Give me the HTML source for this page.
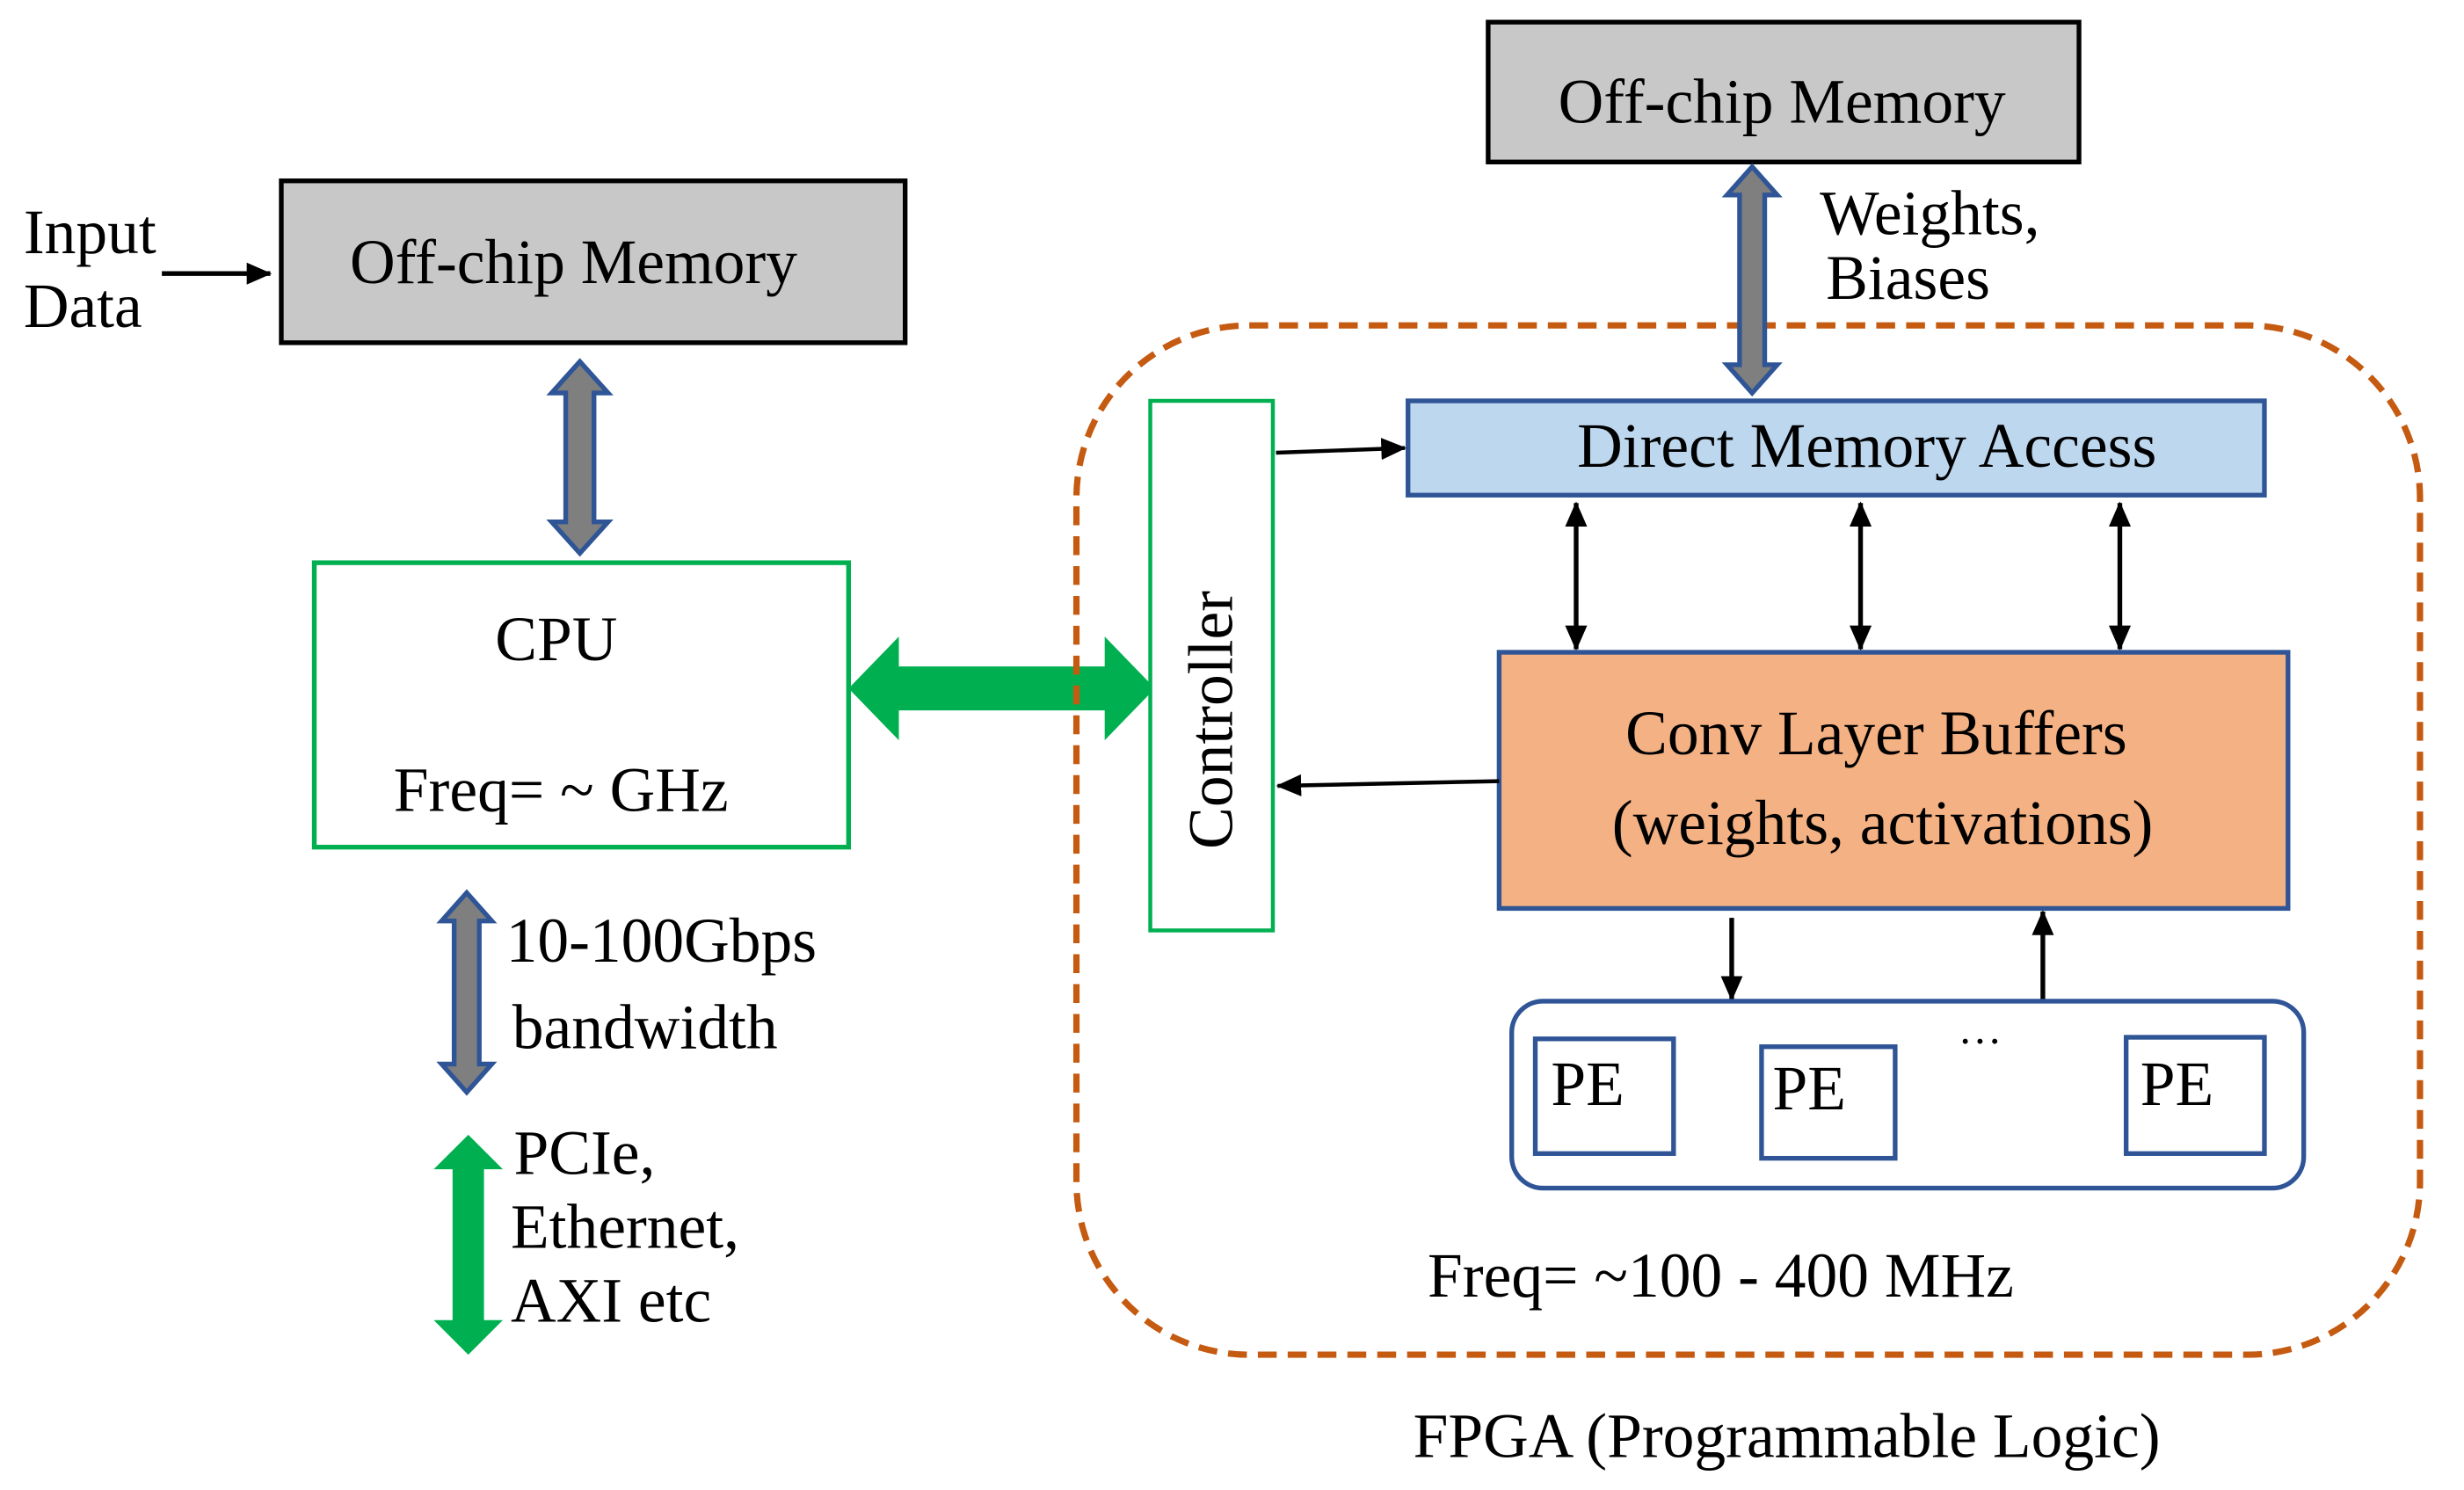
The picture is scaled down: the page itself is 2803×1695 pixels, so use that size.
<!DOCTYPE html>
<html><head><meta charset="utf-8"><style>
html,body{margin:0;padding:0;background:#fff;}
svg{display:block;}
text{font-family:"Liberation Serif",serif;font-size:40px;fill:#000;}
</style></head><body>
<svg width="2803" height="1695" viewBox="0 0 1568 948" xmlns="http://www.w3.org/2000/svg">
<defs>
<marker id="ah2" markerWidth="16" markerHeight="14" refX="15" refY="7" orient="auto" markerUnits="userSpaceOnUse">
<path d="M0,0 L16,7 L0,14 z" fill="#000"/></marker>
<marker id="ah3" markerWidth="16" markerHeight="14" refX="1" refY="7" orient="auto" markerUnits="userSpaceOnUse">
<path d="M16,0 L0,7 L16,14 z" fill="#000"/></marker>
</defs>

<rect x="179" y="115" width="397" height="103" fill="#c8c8c8" stroke="#000" stroke-width="3"/>
<text x="365" y="180" text-anchor="middle">Off-chip Memory</text>
<text x="15" y="161">Input</text>
<text x="15" y="208">Data</text>
<line x1="103" y1="174" x2="172" y2="174" stroke="#000" stroke-width="3" marker-end="url(#ah2)"/>

<path d="M369,230 L387,250 L378,250 L378,332 L387,332 L369,352 L351,332 L360,332 L360,250 L351,250 Z" fill="#7f7f7f" stroke="#2f5597" stroke-width="3"/>

<rect x="200" y="358" width="340" height="181" fill="#fff" stroke="#00b050" stroke-width="3"/>
<text x="354" y="420" text-anchor="middle">CPU</text>
<text x="357" y="516" text-anchor="middle">Freq= ~ GHz</text>

<path d="M540,438 L572,405 L572,424 L703,424 L703,405 L735,438 L703,471 L703,452 L572,452 L572,471 Z" fill="#00b050"/>

<path d="M297,568 L313,586 L305,586 L305,677 L313,677 L297,695 L281,677 L289,677 L289,586 L281,586 Z" fill="#7f7f7f" stroke="#2f5597" stroke-width="3"/>
<text x="322" y="612">10-100Gbps</text>
<text x="326" y="667">bandwidth</text>

<path d="M298,722 L320,744 L308,744 L308,840 L320,840 L298,862 L276,840 L288,840 L288,744 L276,744 Z" fill="#00b050"/>
<text x="327" y="747">PCIe,</text>
<text x="325" y="794">Ethernet,</text>
<text x="325" y="841">AXI etc</text>

<rect x="685" y="207" width="855" height="655" rx="110" ry="110" fill="none" stroke="#c55a11" stroke-width="4" stroke-dasharray="12 7"/>

<rect x="732" y="255" width="78" height="337" fill="#fff" stroke="#00b050" stroke-width="2.5"/>
<text x="0" y="0" text-anchor="middle" transform="translate(784,458) rotate(-90)">Controller</text>

<rect x="947" y="14" width="376" height="89" fill="#c8c8c8" stroke="#000" stroke-width="3"/>
<text x="1134" y="78" text-anchor="middle">Off-chip Memory</text>
<path d="M1115,106 L1131,124 L1123,124 L1123,232 L1131,232 L1115,250 L1099,232 L1107,232 L1107,124 L1099,124 Z" fill="#7f7f7f" stroke="#2f5597" stroke-width="3"/>
<text x="1158" y="149">Weights,</text>
<text x="1162" y="190">Biases</text>

<rect x="896" y="255" width="545" height="60" fill="#bdd7ee" stroke="#2f5597" stroke-width="3"/>
<text x="1188" y="297" text-anchor="middle">Direct Memory Access</text>
<line x1="812" y1="288" x2="894" y2="285" stroke="#000" stroke-width="2.5" marker-end="url(#ah2)"/>

<line x1="1003" y1="320" x2="1003" y2="413" stroke="#000" stroke-width="3" marker-start="url(#ah3)" marker-end="url(#ah2)"/>
<line x1="1184" y1="320" x2="1184" y2="413" stroke="#000" stroke-width="3" marker-start="url(#ah3)" marker-end="url(#ah2)"/>
<line x1="1349" y1="320" x2="1349" y2="413" stroke="#000" stroke-width="3" marker-start="url(#ah3)" marker-end="url(#ah2)"/>

<rect x="954" y="415" width="502" height="163" fill="#f4b183" stroke="#2f5597" stroke-width="3"/>
<text x="1194" y="480" text-anchor="middle">Conv Layer Buffers</text>
<text x="1198" y="537" text-anchor="middle">(weights, activations)</text>
<line x1="954" y1="497" x2="813" y2="500" stroke="#000" stroke-width="2.5" marker-end="url(#ah2)"/>

<line x1="1102" y1="584" x2="1102" y2="636" stroke="#000" stroke-width="3" marker-end="url(#ah2)"/>
<line x1="1300" y1="639" x2="1300" y2="580" stroke="#000" stroke-width="3" marker-end="url(#ah2)"/>

<rect x="962" y="637" width="504" height="119" rx="20" ry="20" fill="#fff" stroke="#2f5597" stroke-width="3"/>
<rect x="977" y="661" width="88" height="73" fill="#fff" stroke="#2f5597" stroke-width="3"/>
<text x="987" y="703">PE</text>
<rect x="1121" y="666" width="85" height="71" fill="#fff" stroke="#2f5597" stroke-width="3"/>
<text x="1128" y="706">PE</text>
<rect x="1353" y="660" width="88" height="74" fill="#fff" stroke="#2f5597" stroke-width="3"/>
<text x="1362" y="703">PE</text>
<text x="1260" y="664" text-anchor="middle" style="font-size:28px">…</text>

<text x="1095" y="825" text-anchor="middle">Freq= ~100 - 400 MHz</text>
<text x="1137" y="927" text-anchor="middle">FPGA (Programmable Logic)</text>
</svg>
</body></html>
